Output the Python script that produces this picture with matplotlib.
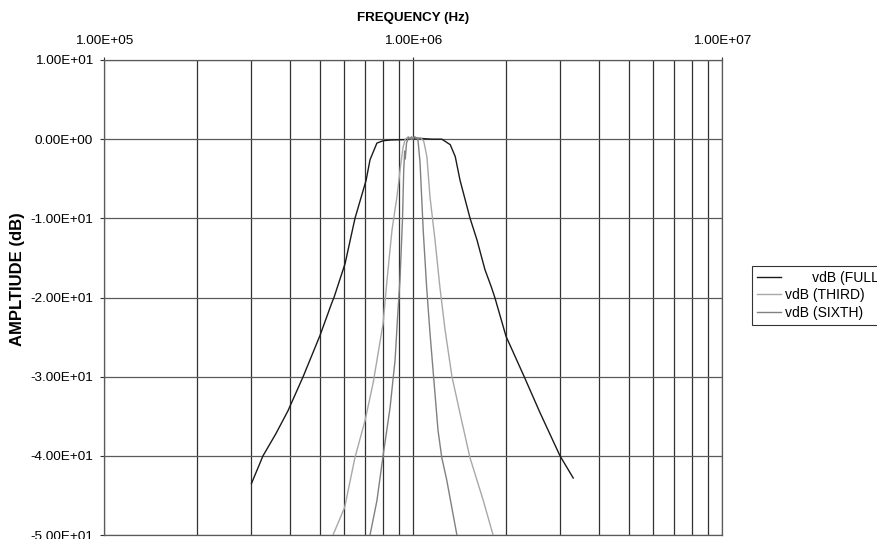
import matplotlib
matplotlib.use("Agg")
import matplotlib.pyplot as plt
from matplotlib.ticker import FixedLocator, FuncFormatter, NullFormatter
import numpy as np

plt.rcParams['font.family'] = ['Liberation Sans', 'DejaVu Sans']

# ---- data ----
full_f = [3.00e5, 3.27e5, 3.60e5, 3.94e5, 4.41e5, 5.00e5, 5.47e5, 5.55e5, 6.03e5, 6.49e5,
          7.05e5, 7.26e5, 7.64e5, 8.00e5, 8.50e5, 9.50e5, 1.05e6, 1.15e6, 1.24e6, 1.32e6,
          1.37e6, 1.42e6, 1.53e6, 1.61e6, 1.71e6, 1.79e6, 1.84e6, 2.00e6, 2.29e6, 2.58e6,
          2.99e6, 3.30e6]
full_db = [-43.5, -40.0, -37.2, -34.3, -30.0, -24.8, -20.6, -20.0, -15.7, -10.0,
           -5.2, -2.6, -0.5, -0.2, -0.1, -0.05, 0.1, 0.0, 0.0, -0.7,
           -2.2, -5.2, -10.0, -12.7, -16.5, -18.6, -20.0, -24.9, -30.0, -34.6,
           -40.0, -42.8]

third_f = [5.51e5, 6.01e5, 6.49e5, 7.00e5, 7.43e5, 8.00e5, 8.24e5, 8.55e5, 8.87e5, 9.14e5,
           9.29e5, 9.44e5, 9.66e5, 9.89e5, 1.012e6, 1.035e6, 1.059e6, 1.084e6, 1.109e6, 1.135e6,
           1.178e6, 1.222e6, 1.270e6, 1.337e6, 1.419e6, 1.528e6, 1.687e6, 1.816e6]
third_db = [-50.0, -46.5, -40.2, -35.5, -30.8, -23.3, -17.8, -11.5, -7.3, -3.0,
            -1.0, 0.0, 0.3, 0.0, 0.3, 0.1, 0.2, -0.3, -2.2, -7.3,
            -12.7, -18.7, -24.1, -30.0, -34.6, -40.2, -45.6, -50.0]

sixth_f = [7.26e5, 7.64e5, 8.00e5, 8.43e5, 8.75e5, 8.93e5, 9.08e5, 9.25e5, 9.33e5, 9.40e5,
           9.44e5, 9.53e5, 9.66e5, 9.77e5, 9.89e5, 1.000e6, 1.012e6, 1.023e6, 1.035e6, 1.040e6,
           1.054e6, 1.079e6, 1.107e6, 1.135e6, 1.205e6, 1.239e6, 1.285e6, 1.387e6]
sixth_db = [-50.0, -45.7, -40.0, -33.9, -27.9, -22.0, -17.6, -10.0, -4.0, -1.5,
            -2.5, -0.5, 0.2, 0.0, 0.3, 0.0, 0.3, 0.1, 0.2, -0.5,
            -3.0, -11.5, -18.7, -24.5, -36.8, -40.2, -43.0, -50.0]

x_major = [1e5, 1e6, 1e7]
y_ticks = [-50, -40, -30, -20, -10, 0, 10]
series_labels = ['       vdB (FULL)', 'vdB (THIRD)', 'vdB (SIXTH)']
series_colors = ['#1a1a1a', '#a8a8a8', '#808080']

# ---- figure ----
fig = plt.figure(figsize=(8.77, 5.39), dpi=100)
ax = fig.add_axes([104/877, 1-535/539, (722-104)/877, (535-60)/539])

for f, d, lab, col in zip([full_f, third_f, sixth_f], [full_db, third_db, sixth_db],
                          series_labels, series_colors):
    ax.plot(f, d, color=col, lw=1.0, label=lab, zorder=3)

ax.set_xscale('log')
ax.set_xlim(1e5, 1e7)
ax.set_ylim(-50, 10)

ax.xaxis.tick_top()
ax.xaxis.set_major_locator(FixedLocator(x_major))
ax.xaxis.set_minor_locator(FixedLocator([m * 10**e for e in (5, 6) for m in range(2, 10)]))
ax.xaxis.set_major_formatter(FuncFormatter(lambda v, p: f"{v:.2E}"))
ax.xaxis.set_minor_formatter(NullFormatter())
ax.yaxis.set_major_locator(FixedLocator(y_ticks))
ax.yaxis.set_major_formatter(FuncFormatter(lambda v, p: f"{v:.2E}"))

ax.tick_params(axis='x', which='major', length=2.2, width=0.8, pad=7.0, labelsize=9.7, color='#333333')
ax.tick_params(axis='x', which='minor', length=0)
ax.tick_params(axis='y', which='major', length=2.9, width=0.8, pad=5, labelsize=9.7, color='#333333')

ax.grid(True, which='both', axis='x', color='#303030', lw=0.9)
ax.grid(True, which='major', axis='y', color='#5a5a5a', lw=0.9)
for s in ax.spines.values():
    s.set_color('#5a5a5a')
    s.set_linewidth(0.9)

fig.text(413/877, 1-18.5/539, 'FREQUENCY (Hz)', ha='center', va='center',
         fontsize=9.6, fontweight='bold')
fig.text(18/877, 1-279/539, 'AMPLTIUDE (dB)', ha='center', va='center',
         rotation=90, fontsize=12, fontweight='bold')

leg = fig.legend(loc='upper left', bbox_to_anchor=(752/877, 1-266/539),
                 fontsize=10, frameon=True, fancybox=False, shadow=False,
                 handlelength=1.75, handletextpad=0.3, borderpad=0.35,
                 labelspacing=0.25, borderaxespad=0)
leg.get_frame().set_edgecolor('#000000')
leg.get_frame().set_linewidth(0.8)

fig.savefig('out.png', dpi=100)
